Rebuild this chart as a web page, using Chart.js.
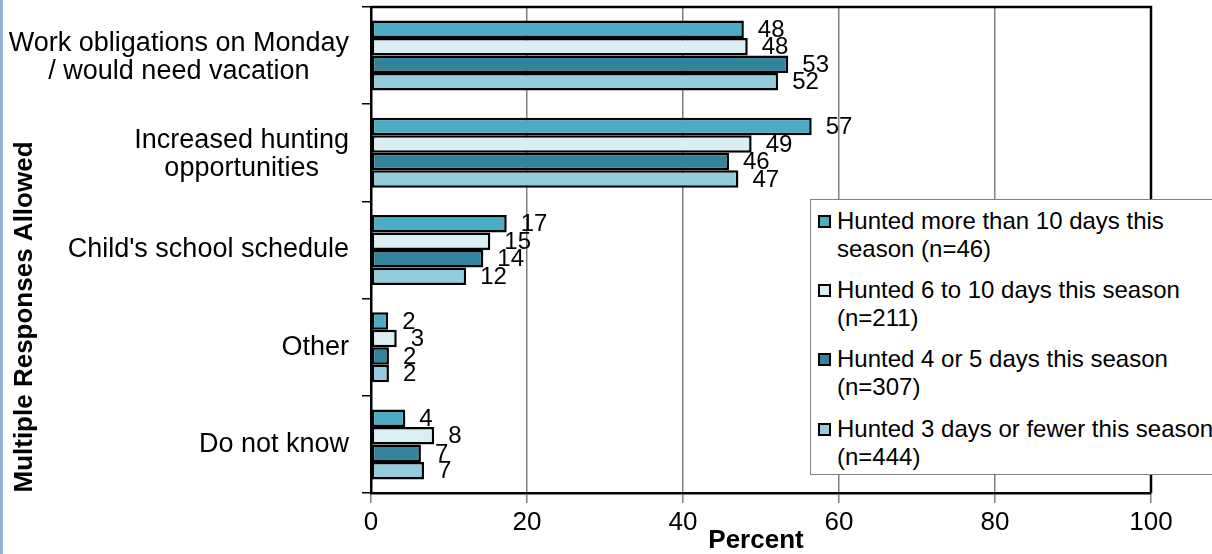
<!DOCTYPE html>
<html>
<head>
<meta charset="utf-8">
<script src="https://cdn.jsdelivr.net/npm/chart.js@4"></script>
<style>
  body { margin: 0; width: 1212px; height: 554px; overflow: hidden; background: #fff; position: relative; }
  #edge { position: absolute; left: 0; top: 0; width: 3px; height: 554px; background: #95b3d7; }
  #leyenda { position: absolute; left: 810px; top: 199px; width: 440px; height: 276px; box-sizing: border-box;
    border: 1px solid #7f7f7f; background: #fff; font: 24px "Liberation Sans", Arial, sans-serif; color: #000; }
  .item { position: absolute; left: 26px; width: 385px; line-height: 28px; }
  .caja { position: absolute; left: -19px; top: 8px; width: 13px; height: 13px; box-sizing: border-box; border: 2px solid #000; }
</style>
</head>
<body>
<div id="edge"></div>
<canvas id="barras" width="1212" height="554"></canvas>
<div id="leyenda"></div>
<script>
// categorias (eje y)
const categorias = [
  ['Work obligations on Monday', '/ would need vacation'],
  ['Increased hunting', 'opportunities'],
  ["Child's school schedule"],
  ['Other'],
  ['Do not know']
];

const series = [
  'Hunted more than 10 days this season (n=46)',
  'Hunted 6 to 10 days this season (n=211)',
  'Hunted 4 or 5 days this season (n=307)',
  'Hunted 3 days or fewer this season (n=444)'
];

const colores = ['#4bacc6', '#dbeef4', '#31849b', '#93cddd'];

// valores (largo de barra)
const mas10 = [47.8, 56.5, 17.4, 2.2, 4.4];
const de6a10 = [48.3, 48.8, 15.3, 3.3, 8.1];
const de4a5 = [53.5, 45.9, 14.4, 2.3, 6.4];
const menos3 = [52.2, 47.1, 12.2, 2.3, 6.8];
const valores = [mas10, de6a10, de4a5, menos3];

// etiquetas que muestra cada barra
const etiquetas = [
  [48, 57, 17, 2, 4],
  [48, 49, 15, 3, 8],
  [53, 46, 14, 2, 7],
  [52, 47, 12, 2, 7]
];

const ticksX = [0, 20, 40, 60, 80, 100];

const fuente = '"Liberation Sans", Arial, sans-serif';

// dibuja etiquetas del eje y, titulos, borde y numeros de las barras
const extras = {
  id: 'extras',
  afterDatasetsDraw(chart) {
    const ctx = chart.ctx;
    ctx.save();
    ctx.font = '24px ' + fuente;
    ctx.fillStyle = '#000';
    ctx.textAlign = 'left';
    ctx.textBaseline = 'middle';
    chart.data.datasets.forEach((ds, i) => {
      chart.getDatasetMeta(i).data.forEach((bar, j) => {
        ctx.fillText(String(etiquetas[i][j]), bar.x + 14, bar.y + 1);
      });
    });
    ctx.restore();
  },
  afterDraw(chart) {
    const ctx = chart.ctx;
    const a = chart.chartArea;
    const y = chart.scales.y;
    ctx.save();
    // borde superior y derecho
    ctx.strokeStyle = '#000';
    ctx.lineWidth = 2.5;
    ctx.beginPath();
    ctx.moveTo(a.left, a.top);
    ctx.lineTo(a.right, a.top);
    ctx.lineTo(a.right, a.bottom);
    ctx.stroke();

    // categorias: bloque alineado a la derecha, lineas centradas
    ctx.font = '27px ' + fuente;
    ctx.fillStyle = '#000';
    ctx.textAlign = 'center';
    ctx.textBaseline = 'middle';
    categorias.forEach((lineas, i) => {
      const cy = y.getPixelForValue(i);
      const ancho = Math.max(...lineas.map(l => ctx.measureText(l).width));
      const cx = 349 - ancho / 2;
      lineas.forEach((l, k) => {
        ctx.fillText(l, cx, cy + (k - (lineas.length - 1) / 2) * 28 + (lineas.length > 1 ? 2 : 0));
      });
    });

    // titulos de ejes
    ctx.font = 'bold 26px ' + fuente;
    ctx.fillText('Percent', 756, 541);
    ctx.translate(25, 317);
    ctx.rotate(-Math.PI / 2);
    ctx.fillText('Multiple Responses Allowed', 0, 0);
    ctx.restore();
  }
};

const datasets = series.map((nombre, i) => ({
  label: nombre,
  data: valores[i],
  backgroundColor: colores[i],
  borderColor: '#000',
  borderWidth: 2.5,
  borderSkipped: false,
  categoryPercentage: 0.72,
  barPercentage: 1
}));

new Chart(document.getElementById('barras'), {
  type: 'bar',
  data: { labels: categorias.map(c => c.join(' ')), datasets: datasets },
  options: {
    indexAxis: 'y',
    responsive: false,
    animation: false,
    layout: { padding: { top: 7, right: 61, left: 0, bottom: 0 } },
    plugins: { legend: { display: false }, tooltip: { enabled: false } },
    scales: {
      x: {
        min: 0, max: 100,
        afterBuildTicks: s => { s.ticks = ticksX.map(v => ({ value: v })); },
        afterFit: s => { s.height = 61; },
        ticks: { color: '#000', font: { size: 26, family: fuente }, padding: 4 },
        grid: { color: '#808080', lineWidth: 1.5, tickLength: 10 },
        border: { color: '#000', width: 2.5 }
      },
      y: {
        afterFit: s => { s.width = 371; },
        ticks: { display: false },
        grid: { drawOnChartArea: false, tickLength: 9, color: '#000', lineWidth: 1.5 },
        border: { color: '#000', width: 2.5 }
      }
    }
  },
  plugins: [extras]
});

// leyenda en html
const ley = document.getElementById('leyenda');
const tops = [7, 76, 145, 215];
series.forEach((nombre, i) => {
  const d = document.createElement('div');
  d.className = 'item';
  d.style.top = tops[i] + 'px';
  d.innerHTML = '<span class="caja" style="background:' + colores[i] + '"></span>' + nombre;
  ley.appendChild(d);
});
</script>
</body>
</html>
